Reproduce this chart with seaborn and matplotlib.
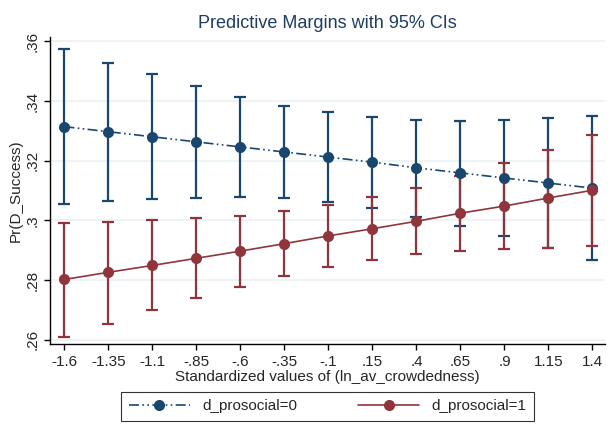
import numpy as np
import pandas as pd
import seaborn as sns
import matplotlib.pyplot as plt

x_vals = [-1.6, -1.35, -1.1, -0.85, -0.6, -0.35, -0.1, 0.15, 0.4, 0.65, 0.9, 1.15, 1.4]
x_labels = ["-1.6", "-1.35", "-1.1", "-.85", "-.6", "-.35", "-.1", ".15", ".4", ".65", ".9", "1.15", "1.4"]

blue_mean = [.3314, .3297, .3280, .3263, .3246, .3229, .3212, .3195, .3176, .3159, .3142, .3125, .3108]
blue_hi = [.3573, .3526, .3489, .3449, .3413, .3383, .3362, .3347, .3337, .3334, .3337, .3344, .3351]
blue_lo = [.3055, .3065, .3071, .3075, .3079, .3075, .3062, .3043, .3011, .2980, .2947, .2906, .2866]

red_mean = [.2802, .2826, .2849, .2873, .2897, .2922, .2948, .2972, .2997, .3024, .3048, .3075, .3101]
red_hi = [.2991, .2994, .3001, .3007, .3016, .3031, .3053, .3078, .3108, .3149, .3193, .3236, .3287]
red_lo = [.2610, .2654, .2701, .2741, .2778, .2813, .2843, .2866, .2886, .2896, .2903, .2906, .2913]

BLUE = "#1a476f"
RED = "#90353b"

sns.set_theme(style="white")
plt.rcParams["font.family"] = ["Liberation Sans", "DejaVu Sans"]

df = pd.DataFrame({
    "x": x_vals * 2,
    "y": blue_mean + red_mean,
    "group": ["d_prosocial=0"] * 13 + ["d_prosocial=1"] * 13,
})

fig, ax = plt.subplots(figsize=(6.14, 4.33), dpi=100)
fig.subplots_adjust(left=0.082, right=0.985, top=0.915, bottom=0.205)

for y in [.26, .28, .30, .32, .34, .36]:
    ax.axhline(y, color="#eaf2f3", lw=1.2, zorder=0)

# confidence intervals
ax.errorbar(x_vals, blue_mean, yerr=[np.subtract(blue_mean, blue_lo), np.subtract(blue_hi, blue_mean)],
            fmt="none", ecolor=BLUE, elinewidth=1.6, capsize=4, capthick=1.6, zorder=2)
ax.errorbar(x_vals, red_mean, yerr=[np.subtract(red_mean, red_lo), np.subtract(red_hi, red_mean)],
            fmt="none", ecolor=RED, elinewidth=1.6, capsize=4, capthick=1.6, zorder=3)

sns.lineplot(data=df[df.group == "d_prosocial=0"], x="x", y="y", ax=ax, color=BLUE, lw=1.2,
             marker="o", markersize=8, markeredgewidth=0, dashes=False, label="d_prosocial=0", zorder=4)
ax.lines[-1].set_dashes([6, 2, 1, 2, 1, 2])
sns.lineplot(data=df[df.group == "d_prosocial=1"], x="x", y="y", ax=ax, color=RED, lw=1.2,
             marker="o", markersize=8, markeredgewidth=0, label="d_prosocial=1", zorder=5)

ax.set_xlim(-1.68, 1.47)
ax.set_ylim(.2585, .3615)
ax.set_xticks(x_vals, x_labels)
ax.set_yticks([.26, .28, .30, .32, .34, .36], [".26", ".28", ".3", ".32", ".34", ".36"], rotation=90, va="center")
ax.tick_params(axis="both", length=4, width=1, color="black", labelsize=11, left=True, bottom=True, direction="out")
for side in ["top", "right"]:
    ax.spines[side].set_visible(False)
for side in ["left", "bottom"]:
    ax.spines[side].set_color("black")
    ax.spines[side].set_linewidth(1)

ax.set_xlabel("Standardized values of (ln_av_crowdedness)", fontsize=11, labelpad=1)
ax.set_ylabel("Pr(D_Success)", fontsize=11, labelpad=2)
ax.set_title("Predictive Margins with 95% CIs", fontsize=13, color="#1e3c64", pad=6)

leg = ax.legend(loc="upper center", bbox_to_anchor=(0.5, -0.13), ncol=2, frameon=True, fancybox=False,
                edgecolor="black", fontsize=11, handlelength=4, columnspacing=4, borderpad=0.5)
leg.get_frame().set_linewidth(0.8)

fig.savefig("out.png", dpi=100)
